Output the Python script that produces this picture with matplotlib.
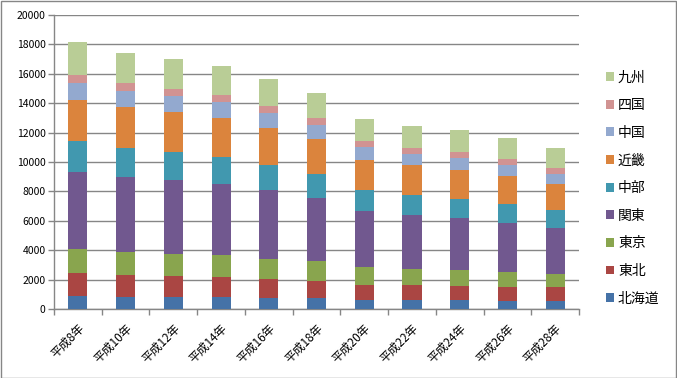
import matplotlib
matplotlib.use("Agg")
import matplotlib.pyplot as plt
import numpy as np
from matplotlib.patches import Rectangle

plt.rcParams['font.family'] = ['Noto Sans CJK JP', 'DejaVu Sans']

years = ["平成8年", "平成10年", "平成12年", "平成14年", "平成16年", "平成18年",
         "平成20年", "平成22年", "平成24年", "平成26年", "平成28年"]

hokkaido = [907, 816, 816, 816, 769, 769, 634, 634, 611, 543, 543]
tohoku   = [1542, 1497, 1429, 1361, 1268, 1132, 995, 995, 950, 951, 951]
tokyo    = [1633, 1565, 1497, 1497, 1358, 1358, 1222, 1087, 1087, 1018, 882]
kanto    = [5239, 5103, 5035, 4831, 4684, 4299, 3802, 3666, 3530, 3327, 3123]
chubu    = [2110, 1996, 1928, 1837, 1697, 1630, 1448, 1357, 1290, 1289, 1222]
kinki    = [2812, 2767, 2721, 2676, 2535, 2353, 2037, 2037, 1969, 1901, 1765]
chugoku  = [1134, 1089, 1089, 1089, 996, 951, 860, 747, 814, 747, 679]
shikoku  = [544, 544, 454, 453, 475, 475, 407, 407, 408, 408, 407]
kyushu   = [2245, 2041, 2041, 1974, 1833, 1697, 1494, 1494, 1493, 1425, 1358]

series_names = ["北海道", "東北", "東京", "関東", "中部", "近畿", "中国", "四国", "九州"]
series_vals = [hokkaido, tohoku, tokyo, kanto, chubu, kinki, chugoku, shikoku, kyushu]
colors = ["#4572A7", "#AA4643", "#89A54E", "#71588F", "#4198AF",
          "#DB843D", "#93A9CF", "#D19392", "#B9CD96"]

fig = plt.figure(figsize=(6.77, 3.78), dpi=100)
ax = fig.add_axes([54/677, 1 - 309/378, (579-54)/677, (309-15)/378])

x = np.arange(len(years))
bottom = np.zeros(len(years))
handles = []
for name, vals, c in zip(series_names, series_vals, colors):
    b = ax.bar(x, vals, width=0.4, bottom=bottom, color=c, label=name, zorder=3)
    handles.append(b)
    bottom += np.array(vals)

ax.set_xlim(-0.5, len(years) - 0.5)
ax.set_ylim(0, 20000)
ax.set_yticks(np.arange(0, 20001, 2000))
ax.set_yticklabels([str(v) for v in range(0, 20001, 2000)], fontsize=7.5)
ax.yaxis.grid(True, color="#868686", linewidth=1, zorder=0)
ax.set_axisbelow(True)

ax.set_xticks(x)
ax.set_xticklabels(years, rotation=45, ha="right", rotation_mode="anchor", fontsize=8.5)
ax.tick_params(axis="x", length=0, pad=9)
ax.set_xticks(np.arange(-0.5, len(years)), minor=True)
ax.tick_params(axis="x", which="minor", length=4, color="#868686", width=1)
ax.tick_params(axis="y", length=4, color="#868686", width=1, pad=2)

for s in ["top", "right"]:
    ax.spines[s].set_visible(False)
for s in ["left", "bottom"]:
    ax.spines[s].set_color("#868686")
    ax.spines[s].set_linewidth(1)

leg = fig.legend(handles[::-1], series_names[::-1], loc="center left",
                 bbox_to_anchor=(593/677, 1 - 188/378), frameon=False,
                 fontsize=10, handlelength=0.6, handleheight=0.6,
                 handletextpad=0.3, labelspacing=0.98)

fig.patches.append(Rectangle((0.5/677, 0.5/378), 1 - 1.5/677, 1 - 1.5/378,
                             transform=fig.transFigure, fill=False,
                             edgecolor="#868686", linewidth=1))

fig.savefig("out.png", dpi=100)
